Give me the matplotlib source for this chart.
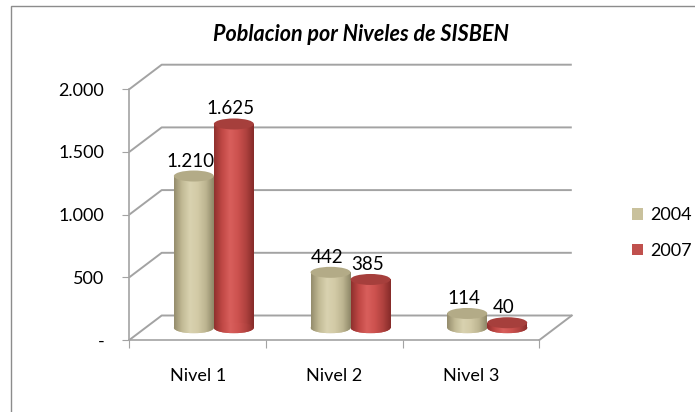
import numpy as np
import matplotlib
matplotlib.use("Agg")
import matplotlib.pyplot as plt
from matplotlib.patches import Ellipse, Rectangle
from matplotlib.colors import LinearSegmentedColormap
from matplotlib.ticker import FuncFormatter

# data
categories = ["Nivel 1", "Nivel 2", "Nivel 3"]
years = ["2004", "2007"]
pop_2004 = [1210, 442, 114]
pop_2007 = [1625, 385, 40]
y_ticks = [0, 500, 1000, 1500, 2000]

plt.rcParams['font.family'] = ['Lato', 'DejaVu Sans']

# layout in pixels of the 695x412 figure
W_PX, H_PX = 695, 412
X0_PX, Y0_PX = 129.3, 340.0      # front bottom-left corner of the plot
CAT_PX = 136.7                    # px per category
UNIT_PX = 0.1254                  # px per unit of population
DX = 32.4 / CAT_PX                # depth offset (x, category units)
DY = 24.5 / UNIT_PX               # depth offset (y, data units)
BW = 40 / CAT_PX                  # cylinder width
EH = 11 / UNIT_PX                 # ellipse height of cylinder caps
base = DY / 2

grid_col = '#a3a3a3'


def fmt(v, pos=None):
    if v == 0:
        return '-'
    return f"{int(v):,}".replace(",", ".")


fig = plt.figure(figsize=(6.95, 4.12), dpi=100)
ax = fig.add_axes([X0_PX / W_PX, (H_PX - Y0_PX) / H_PX,
                   3 * CAT_PX / W_PX, 2000 * UNIT_PX / H_PX])

# back wall + side wall lines (3D look)
for v in y_ticks:
    ax.plot([-0.5, -0.5 + DX, 2.5 + DX], [v, v + DY, v + DY],
            color=grid_col, lw=1.4, clip_on=False, zorder=1,
            solid_capstyle='butt')
ax.plot([2.5, 2.5 + DX], [0, DY], color=grid_col, lw=1.4, clip_on=False, zorder=1)

tan_cmap = LinearSegmentedColormap.from_list(
    'tan', ['#948c6c', '#c2ba95', '#d9d2b0', '#d2caa6', '#bdb591', '#8e8767'])
red_cmap = LinearSegmentedColormap.from_list(
    'red', ['#8f302e', '#c04845', '#d85f5c', '#cd524f', '#b0423f', '#852b29'])
grad = np.linspace(0, 1, 128).reshape(1, -1)

series = [
    (pop_2004, tan_cmap, '#c9c19c', '#b3ab87'),
    (pop_2007, red_cmap, '#c0504d', '#a63f3c'),
]

for s, (vals, cmap, face, top_col) in enumerate(series):
    xs = np.arange(len(categories)) + DX / 2 + (s - 0.5) * BW
    bars = ax.bar(xs, vals, width=BW, bottom=base, color=face, zorder=3,
                  label=years[s], clip_on=False)
    for xc, v, rect in zip(xs, vals, bars):
        bot = Ellipse((xc, base), BW, EH, facecolor=face, edgecolor='none',
                      zorder=2.9, clip_on=False)
        ax.add_patch(bot)
        for clipper, y_lo, y_hi in [(rect, base, base + v),
                                    (bot, base - EH / 2, base + EH / 2)]:
            im = ax.imshow(grad, cmap=cmap, aspect='auto', interpolation='bicubic',
                           extent=(xc - BW / 2, xc + BW / 2, y_lo, y_hi),
                           zorder=3.1)
            im.set_clip_path(clipper)
        cap = Ellipse((xc, base + v), BW, EH, facecolor=top_col,
                      edgecolor='none', zorder=3.3, clip_on=False)
        ax.add_patch(cap)
        ax.text(xc - 0.025, base + v + EH / 2 + 4 / UNIT_PX, fmt(v),
                ha='center', va='baseline', fontsize=13.5, zorder=4)

ax.set_xlim(-0.5, 2.5)
ax.set_ylim(0, 2000)

for side in ['top', 'right']:
    ax.spines[side].set_visible(False)
for side in ['left', 'bottom']:
    ax.spines[side].set_color(grid_col)
    ax.spines[side].set_linewidth(1.2)
ax.patch.set_alpha(0)

ax.set_yticks(y_ticks)
ax.yaxis.set_major_formatter(FuncFormatter(fmt))
ax.tick_params(axis='y', length=5, color=grid_col, pad=13, labelsize=13)

ax.set_xticks([-0.5, 0.5, 1.5, 2.5])
ax.set_xticklabels([])
ax.set_xticks(range(len(categories)), minor=True)
ax.set_xticklabels(categories, minor=True)
ax.tick_params(axis='x', which='major', length=6, color=grid_col)
ax.tick_params(axis='x', which='minor', length=0, pad=20, labelsize=13)

fig.text(361 / W_PX, 1 - 41 / H_PX, 'Poblacion por Niveles de SISBEN',
         ha='center', va='baseline', fontsize=15.5, fontweight='bold',
         fontstyle='italic')

fig.legend(handles=ax.containers, labels=years, loc='center left',
           bbox_to_anchor=(616 / W_PX, 1 - 233 / H_PX), frameon=False,
           fontsize=13, handlelength=0.62, handleheight=0.62,
           handletextpad=0.4, labelspacing=1.1)

fig.patches.append(Rectangle((11 / W_PX, -0.1), 1.0, 1.1 - 6 / H_PX,
                             transform=fig.transFigure, fill=False,
                             edgecolor='#8c8c8c', lw=1.0))

fig.savefig('out.png', dpi=100)
